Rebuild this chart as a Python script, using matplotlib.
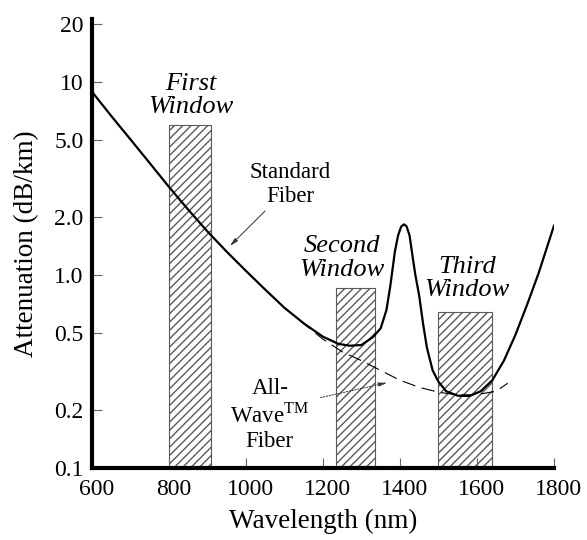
import numpy as np
import matplotlib
matplotlib.use('Agg')
import matplotlib.pyplot as plt
import matplotlib.transforms as mtransforms

plt.rcParams['font.family'] = ['Liberation Serif', 'DejaVu Serif']
plt.rcParams['mathtext.fontset'] = 'custom'
plt.rcParams['mathtext.rm'] = 'Liberation Serif'

# standard fiber attenuation (solid curve)
std_nm = [600, 650, 700, 750, 800, 850, 900, 950, 1000, 1050, 1100, 1150,
          1200, 1240, 1270, 1300, 1330, 1350, 1365, 1375, 1387, 1395, 1403,
          1410, 1417, 1425, 1432, 1440, 1450, 1460, 1470, 1485, 1500, 1520,
          1550, 1580, 1610, 1640, 1670, 1700, 1730, 1760, 1800]
std_db = [8.9, 6.67, 5.04, 3.80, 2.86, 2.18, 1.68, 1.32, 1.05, 0.84, 0.676, 0.562,
          0.479, 0.44, 0.43, 0.434, 0.477, 0.53, 0.66, 0.88, 1.33, 1.60, 1.78,
          1.83, 1.79, 1.60, 1.28, 1.0, 0.78, 0.56, 0.42, 0.32, 0.28, 0.25,
          0.237, 0.236, 0.25, 0.285, 0.36, 0.49, 0.70, 1.02, 1.8]

# All-Wave fiber (dashed curve)
aw_nm = [1140, 1170, 1200, 1250, 1300, 1350, 1400, 1450, 1500, 1550, 1600, 1650, 1680]
aw_db = [0.58, 0.52, 0.465, 0.40, 0.36, 0.32, 0.285, 0.262, 0.247, 0.239, 0.24, 0.25, 0.275]

# transmission windows
win_start = [800, 1235, 1500]
win_end = [910, 1335, 1640]
win_top = [6.0, 0.86, 0.64]
win_names = ['First\nWindow', 'Second\nWindow', 'Third\nWindow']
win_label_x = [857, 1249, 1574]
win_label_y = [8.5, 1.22, 0.96]

yticks = [0.1, 0.2, 0.5, 1.0, 2.0, 5.0, 10, 20]
ytick_labels = ['0.1', '0.2', '0.5', '1.0', '2.0', '5.0', '10', '20']
xticks = [600, 800, 1000, 1200, 1400, 1600, 1800]

fig = plt.figure(figsize=(5.87, 5.4), dpi=100)
ax = fig.add_axes([0.1567, 0.1333, 0.787, 0.8315])

ax.set_yscale('log')
ax.set_xlim(600, 1800)
ax.set_ylim(0.1, 21.2)

# hatched windows
widths = [e - s for s, e in zip(win_start, win_end)]
heights = [t - 0.1 for t in win_top]
ax.bar(win_start, heights, width=widths, bottom=0.1, align='edge',
       facecolor='white', edgecolor='0.35', linewidth=0.8, hatch='////', zorder=1)

for name, x, y in zip(win_names, win_label_x, win_label_y):
    ax.text(x, y, name, style='italic', fontsize=19, ha='center', va='center',
            linespacing=1.1)

ax.plot(aw_nm, aw_db, color='black', lw=0.8, linestyle=(0, (12, 6)), zorder=3)
ax.plot(std_nm, std_db, color='black', lw=1.6, zorder=4)

ax.text(1114, 2.94, 'Standard\nFiber', fontsize=16.5, ha='center', va='center',
        linespacing=1.15)
ax.annotate('', xy=(953, 1.38), xytext=(1055, 2.2),
            arrowprops=dict(arrowstyle='-|>,head_length=0.5,head_width=0.12',
                            color='0.2', lw=0.7))

ax.text(1062, 0.188, 'All-\nWave$^{\\rm TM}$\nFiber', fontsize=16.5, ha='center',
        va='center', linespacing=1.2)
ax.annotate('', xy=(1374, 0.279), xytext=(1187, 0.23),
            arrowprops=dict(arrowstyle='-|>,head_length=0.5,head_width=0.12',
                            color='0.2', lw=0.7, linestyle=(0, (1.5, 1.5))))

ax.spines['top'].set_visible(False)
ax.spines['right'].set_visible(False)
ax.spines['left'].set_linewidth(3)
ax.spines['bottom'].set_linewidth(3)

ax.set_yticks(yticks)
ax.set_yticklabels(ytick_labels)
ax.minorticks_off()
ax.set_xticks(xticks)
ax.tick_params(direction='in', length=7, width=0.8, color='0.4', labelsize=17)
ax.tick_params(axis='x', pad=8)
ax.tick_params(axis='y', pad=6)

offset = mtransforms.ScaledTranslation(5 / 100, 0, fig.dpi_scale_trans)
for lab in ax.get_xticklabels():
    lab.set_transform(lab.get_transform() + offset)

ax.set_xlabel('Wavelength (nm)', fontsize=19.5, labelpad=6)
ax.set_ylabel('Attenuation (dB/km)', fontsize=19.5, labelpad=11)

fig.savefig('out.png', dpi=100)
